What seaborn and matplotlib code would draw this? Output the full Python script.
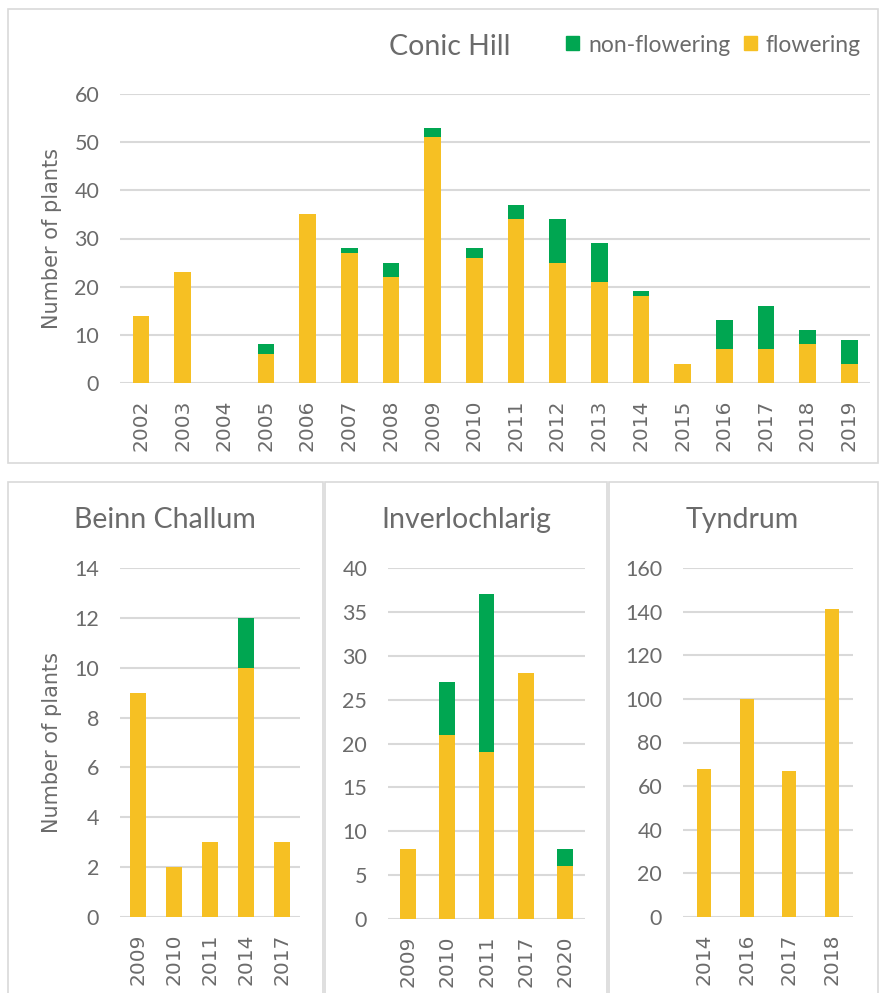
import numpy as np
import pandas as pd
import matplotlib
matplotlib.use("Agg")
import matplotlib.pyplot as plt
from matplotlib.patches import Rectangle
import seaborn as sns

# Data
conic_years = [str(y) for y in range(2002, 2020)]
conic_flowering = [14, 23, 0, 6, 35, 27, 22, 51, 26, 34, 25, 21, 18, 4, 7, 7, 8, 4]
conic_nonflowering = [0, 0, 0, 2, 0, 1, 3, 2, 2, 3, 9, 8, 1, 0, 6, 9, 3, 5]

beinn_years = ["2009", "2010", "2011", "2014", "2017"]
beinn_flowering = [9, 2, 3, 10, 3]
beinn_nonflowering = [0, 0, 0, 2, 0]

inver_years = ["2009", "2010", "2011", "2017", "2020"]
inver_flowering = [8, 21, 19, 28, 6]
inver_nonflowering = [0, 6, 18, 0, 2]

tyndrum_years = ["2014", "2016", "2017", "2018"]
tyndrum_flowering = [68, 100, 67, 141]
tyndrum_nonflowering = [0, 0, 0, 0]

GREEN = "#00A651"
YELLOW = "#F6C023"
TEXT = "#6b6b6b"
GRID = "#D9D9D9"

sns.set_theme(style="white")
plt.rcParams['font.family'] = ['Lato', 'DejaVu Sans']

fig = plt.figure(figsize=(8.81, 9.93), dpi=100)
W, H = 881, 993


def px_axes(x0, y0, x1, y1):
    # pixel box (top-left origin) -> figure axes
    return fig.add_axes([x0 / W, 1 - y1 / H, (x1 - x0) / W, (y1 - y0) / H])


def draw_panel(ax, years, flowering, nonflowering, ymax, step, width, ylabel=False):
    df = pd.DataFrame({'year': years, 'flowering': flowering,
                       'nonflowering': nonflowering})
    df['total'] = df['flowering'] + df['nonflowering']
    sns.barplot(data=df, x='year', y='total', color=GREEN, width=width,
                saturation=1, ax=ax, zorder=3, linewidth=0)
    sns.barplot(data=df, x='year', y='flowering', color=YELLOW, width=width,
                saturation=1, ax=ax, zorder=4, linewidth=0)
    ax.set_ylim(0, ymax)
    ax.set_yticks(np.arange(0, ymax + step, step))
    ax.set_xlim(-0.5, len(years) - 0.5)
    ax.yaxis.grid(True, color=GRID, lw=1.5, zorder=0)
    ax.set_axisbelow(True)
    for s in ax.spines.values():
        s.set_visible(False)
    ax.tick_params(axis='y', length=0, pad=15, labelsize=15.5, labelcolor=TEXT)
    ax.tick_params(axis='x', length=0, pad=12, labelsize=14.5, labelcolor=TEXT,
                   rotation=90)
    for lab in ax.get_xticklabels():
        lab.set_family('DejaVu Sans')
    ax.set_xlabel('')
    if ylabel:
        ax.set_ylabel('Number of plants', fontsize=15, color=TEXT,
                      family='DejaVu Sans', labelpad=9)
    else:
        ax.set_ylabel('')


# Panel borders
for (x0, y0, x1, y1) in [(8, 9, 878, 463), (8, 482, 323, 996),
                         (325, 482, 607, 996), (609, 482, 878, 996)]:
    fig.patches.append(Rectangle((x0 / W, 1 - y1 / H), (x1 - x0) / W, (y1 - y0) / H,
                                 transform=fig.transFigure, fill=False,
                                 edgecolor=GRID, lw=1.2))

ax_top = px_axes(120, 94, 870, 383)
draw_panel(ax_top, conic_years, conic_flowering, conic_nonflowering, 60, 10, 0.4, ylabel=True)

ax_b1 = px_axes(120, 568, 300, 917)
draw_panel(ax_b1, beinn_years, beinn_flowering, beinn_nonflowering, 14, 2, 0.42, ylabel=True)

ax_b2 = px_axes(388, 568, 585, 919)
draw_panel(ax_b2, inver_years, inver_flowering, inver_nonflowering, 40, 5, 0.4)

ax_b3 = px_axes(683, 568, 853, 917)
draw_panel(ax_b3, tyndrum_years, tyndrum_flowering, tyndrum_nonflowering, 160, 20, 0.34)

# Titles
fig.text(450 / W, 1 - 47 / H, 'Conic Hill', ha='center', va='center', fontsize=20.5, color=TEXT)
fig.text(165 / W, 1 - 520 / H, 'Beinn Challum', ha='center', va='center', fontsize=20.5, color=TEXT)
fig.text(466 / W, 1 - 520 / H, 'Inverlochlarig', ha='center', va='center', fontsize=20.5, color=TEXT)
fig.text(742 / W, 1 - 520 / H, 'Tyndrum', ha='center', va='center', fontsize=20.5, color=TEXT)

# Legend
handles = [Rectangle((0, 0), 1, 1, color=GREEN), Rectangle((0, 0), 1, 1, color=YELLOW)]
fig.legend(handles, ['non-flowering', 'flowering'], loc='center right',
           bbox_to_anchor=(870 / W, 1 - 45 / H), ncol=2, frameon=False,
           fontsize=16.5, labelcolor=TEXT, handlelength=0.55, handleheight=0.55,
           handletextpad=0.4, columnspacing=0.6, borderaxespad=0)

fig.savefig('out.png', dpi=100)
